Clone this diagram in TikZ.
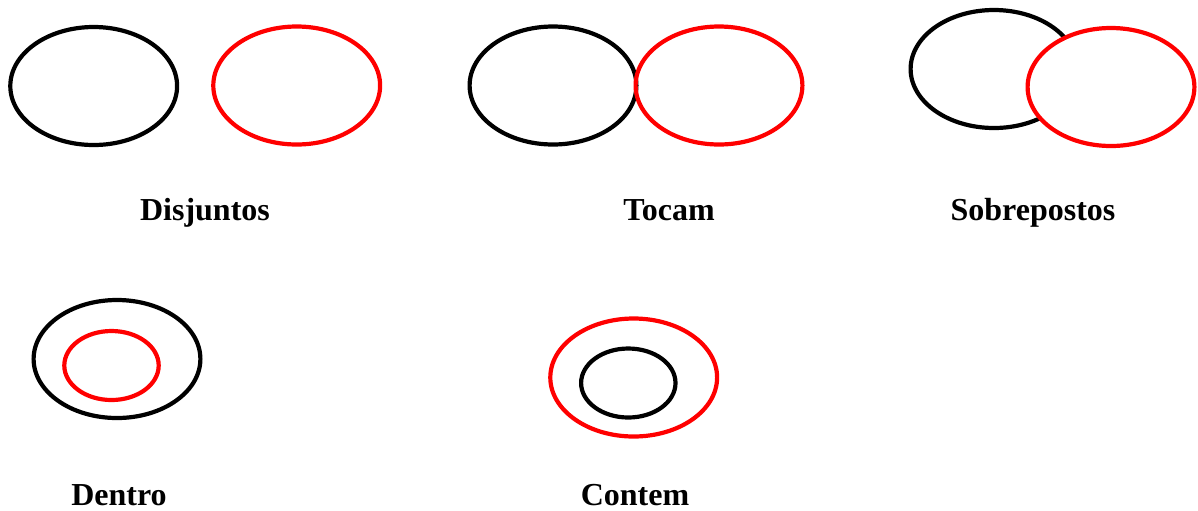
\documentclass[tikz,border=0pt]{standalone}
\usepackage{fontspec}
\setmainfont{Liberation Serif}
\usetikzlibrary{shapes.geometric}
\begin{document}
\begin{tikzpicture}[x=0.5pt,y=-0.5pt,
  set/.style={ellipse, draw, line width=2.1pt, inner sep=0pt},
  big/.style={set, minimum width=83.4pt, minimum height=59pt},
  small/.style={set, minimum width=47.2pt, minimum height=34.5pt},
  blk/.style={draw=black},
  rd/.style={draw=red},
  lbl/.style={anchor=base, font=\fontsize{16pt}{19pt}\selectfont\bfseries, inner sep=0pt}]
\useasboundingbox (0,0) rectangle (1198,510);

% disjoint sets
\node[big, blk] (d1) at (93.7,86) {};
\node[big, rd]  (d2) at (296.7,85.5) {};
\node[lbl] (tD) at (205,220) {Disjuntos};

% touching sets
\node[big, blk] (t1) at (553,85.5) {};
\node[big, rd]  (t2) at (719,85.5) {};
\node[lbl] (tT) at (669,220) {Tocam};

% overlapping sets: the red one lies on top and hides the black arc
\node[big, blk] (s1) at (994,69) {};
\node[big, rd, fill=white] (s2) at (1111,87) {};
\node[lbl] (tS) at (1033,220) {Sobrepostos};

% red inside black
\node[big, blk]  (i1) at (117,359) {};
\node[small, rd] (i2) at (111.5,365.5) {};
\node[lbl] (tI) at (119,505) {Dentro};

% red contains black
\node[big, rd]    (c1) at (633.7,377.5) {};
\node[small, blk] (c2) at (628.3,383) {};
\node[lbl] (tC) at (635,505) {Contem};
\end{tikzpicture}
\end{document}
